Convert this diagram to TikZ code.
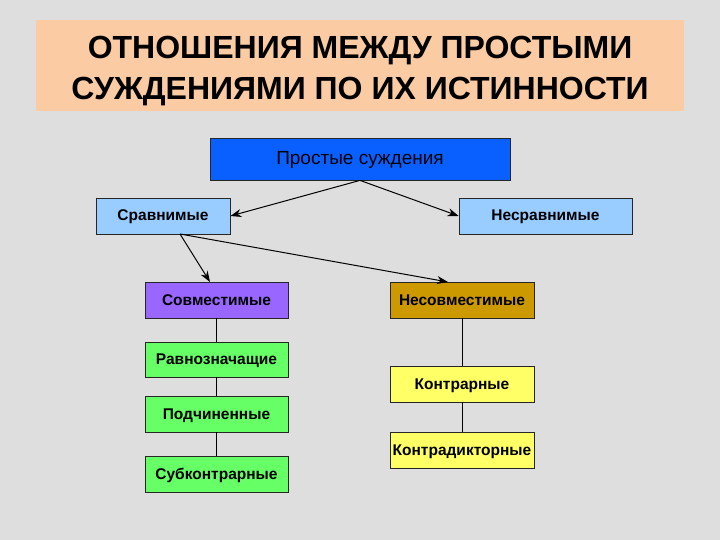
\documentclass[tikz,border=0pt]{standalone}
\usepackage{fontspec}
\setmainfont{Liberation Sans}
\usetikzlibrary{arrows.meta}
\definecolor{bggray}{HTML}{DEDEDE}
\definecolor{peach}{HTML}{FBCBA4}
\definecolor{topblue}{HTML}{0A60FF}
\definecolor{paleblue}{HTML}{99CCFF}
\definecolor{lilac}{HTML}{9966FF}
\definecolor{ochre}{HTML}{CC9900}
\definecolor{lightgreen}{HTML}{66FF66}
\definecolor{lightyellow}{HTML}{FFFF66}
\begin{document}
\begin{tikzpicture}[
        x=1pt, y=-1pt,
        box/.style={rectangle, draw=black!85, line width=0.8pt, minimum height=36pt, inner sep=1pt,
            text height=11pt, text depth=1pt, font=\fontsize{15.5}{18}\selectfont\bfseries},
        arrow/.style={-{Stealth[length=11pt,width=8pt]}, line width=1pt},
        link/.style={line width=0.8pt}
    ]
        % Background
        \fill[bggray] (0,0) rectangle (720,540);
        \useasboundingbox (0,0) rectangle (720,540);

        % Title
        \node[fill=peach, minimum width=648pt, minimum height=91pt] (titlebox) at (360,65.5) {};
        \node[align=center, font=\fontsize{32}{41}\selectfont\bfseries] (title) at (360,71)
            {ОТНОШЕНИЯ МЕЖДУ ПРОСТЫМИ\\СУЖДЕНИЯМИ ПО ИХ ИСТИННОСТИ};

        % Top level
        \node[box, fill=topblue, minimum width=300pt, minimum height=42pt, text height=13pt,
            font=\fontsize{19}{22}\selectfont] (simple) at (360,159) {Простые суждения};
        \node[box, fill=paleblue, minimum width=134pt] (comparable) at (163,216) {Сравнимые};
        \node[box, fill=paleblue, minimum width=173pt] (incomparable) at (545.5,216) {Несравнимые};

        % Left column
        \node[box, fill=lilac, minimum width=143pt] (compatible) at (216.5,300) {Совместимые};
        \node[box, fill=lightgreen, minimum width=143pt, minimum height=35pt] (equivalent) at (216.5,359.5) {Равнозначащие};
        \node[box, fill=lightgreen, minimum width=143pt] (subordinate) at (216.5,414) {Подчиненные};
        \node[box, fill=lightgreen, minimum width=143pt] (subcontrary) at (216.5,474) {Субконтрарные};

        % Right column
        \node[box, fill=ochre, minimum width=144pt] (incompatible) at (462,300) {Несовместимые};
        \node[box, fill=lightyellow, minimum width=144pt] (contrary) at (462,384) {Контрарные};
        \node[box, fill=lightyellow, minimum width=144pt] (contradictory) at (462,450) {Контрадикторные};

        % Arrow ends
        \coordinate (split) at (180,234);
        \coordinate (compin) at (210,282);
        \coordinate (incompin) at (448,282);

        % Arrows
        \draw[arrow] (simple.south) -- (comparable.east);
        \draw[arrow] (simple.south) -- (incomparable.west);
        \draw[arrow] (split) -- (compin);
        \draw[arrow] (split) -- (incompin);

        % Column links
        \draw[link] (compatible) -- (equivalent);
        \draw[link] (equivalent) -- (subordinate);
        \draw[link] (subordinate) -- (subcontrary);
        \draw[link] (incompatible) -- (contrary);
        \draw[link] (contrary) -- (contradictory);

    \end{tikzpicture}
\end{document}
